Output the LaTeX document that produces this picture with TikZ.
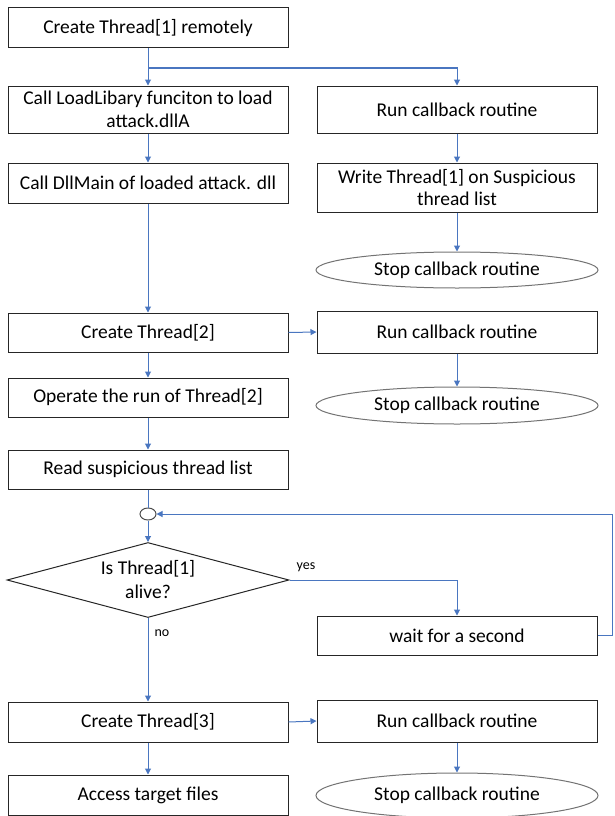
\documentclass[tikz,border=0pt]{standalone}
\usepackage{fontspec}
\setmainfont{Carlito}
\usetikzlibrary{shapes.geometric,arrows.meta}
\definecolor{connc}{HTML}{4A76C0}
\tikzset{
  box/.style={draw=black!85, line width=1pt, minimum width=280pt, align=center, inner sep=2pt, font=\fontsize{19.5}{22.5}\selectfont},
  oval/.style={ellipse, draw=black!55, line width=1pt, minimum width=282pt, inner sep=0pt, font=\fontsize{19.5}{22.5}\selectfont},
  dec/.style={diamond, draw=black!85, line width=1pt, aspect=3.76, minimum width=282pt, minimum height=75pt, inner sep=0pt, align=center, font=\fontsize{19.5}{24}\selectfont},
  conn/.style={draw=connc, line width=1pt, -{Triangle[width=6pt,length=6pt]}},
  plain/.style={draw=connc, line width=1pt},
  lbl/.style={font=\fontsize{14}{16}\selectfont, inner sep=0pt}
}
\begin{document}
\begin{tikzpicture}[x=1pt,y=-1pt]
\useasboundingbox (0,0) rectangle (614,816);
\clip (0,0) rectangle (614,816);
\node[box, minimum height=40pt] (b1) at (148,28) {Create Thread[1] remotely};
\node[box, minimum height=47pt] (b2) at (148,109.5) {Call LoadLibary funciton to load\\attack.dllA};
\node[box, minimum height=47pt] (r1) at (457,109.5) {Run callback routine};
\node[box, minimum height=40pt] (b3) at (148,183) {Call DllMain of loaded attack. dll};
\node[box, minimum height=49pt] (r2) at (457,187.5) {Write Thread[1] on Suspicious\\thread list};
\node[oval, minimum height=36pt] (e1) at (457,270) {Stop callback routine};
\node[box, minimum height=39pt] (b4) at (148,332.5) {Create Thread[2]};
\node[box, minimum height=42pt] (r3) at (457,332) {Run callback routine};
\node[box, minimum height=39pt] (b5) at (148,397.5) {Operate the run of Thread[2]};
\node[oval, minimum height=37pt] (e2) at (457,405.5) {Stop callback routine};
\node[box, minimum height=39pt] (b6) at (148,469.5) {Read suspicious thread list};
\node[ellipse, draw=black!70, line width=1pt, minimum width=16pt, minimum height=12pt, inner sep=0pt] (circ) at (148,514) {};
\node[dec] (dia) at (148,580) {Is Thread[1]\\alive?};
\node[box, minimum height=39pt] (wt) at (457,635.5) {wait for a second};
\node[box, minimum height=40pt] (b7) at (148,722) {Create Thread[3]};
\node[box, minimum height=42pt] (r4) at (457,721) {Run callback routine};
\node[box, minimum height=40pt] (b8) at (148,795) {Access target files};
\node[oval, minimum height=45pt] (e3) at (457,795.5) {Stop callback routine};
\node[lbl] (yes) at (306,567) {yes};
\node[lbl] (no) at (162,633) {no};
\coordinate (split) at (148,68);
\coordinate (loopR) at (612.5,514);
\draw[conn] (b1.south) -- (b2.north);
\draw[conn] (split) -| (r1.north);
\draw[conn] (r1.south) -- (r2.north);
\draw[conn] (r2.south) -- (e1.north);
\draw[conn] (b2.south) -- (b3.north);
\draw[conn] (b3.south) -- (b4.north);
\draw[conn] (b4.east) -- (r3.west);
\draw[conn] (r3.south) -- (e2.north);
\draw[conn] (b4.south) -- (b5.north);
\draw[conn] (b5.south) -- (b6.north);
\draw[plain] (b6.south) -- (circ.north);
\draw[conn] (circ.south) -- (dia.north);
\draw[conn] (dia.east) -| (wt.north);
\draw[conn] (wt.east) -| (loopR) -- (circ.east);
\draw[conn] (dia.south) -- (b7.north);
\draw[conn] (b7.east) -- (r4.west);
\draw[conn] (r4.south) -- (e3.north);
\draw[conn] (b7.south) -- (b8.north);
\end{tikzpicture}
\end{document}
